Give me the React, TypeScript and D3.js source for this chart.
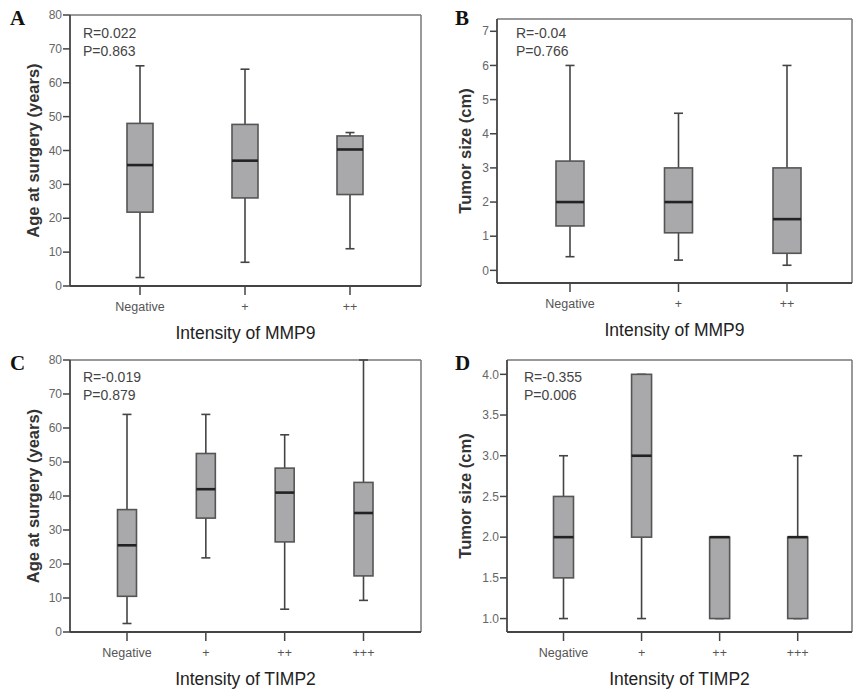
import React from "react";
import * as d3 from "d3";

// ---- data ----
const catsMMP9 = ["Negative", "+", "++"];
const catsTIMP2 = ["Negative", "+", "++", "+++"];

// [min, q1, median, q3, max]
const ageByMMP9 = [
  [2.5, 21.8, 35.7, 48, 65],
  [7, 26, 37, 47.7, 64],
  [11, 27, 40.3, 44.3, 45.3],
];
const sizeByMMP9 = [
  [0.4, 1.3, 2, 3.2, 6],
  [0.3, 1.1, 2, 3, 4.6],
  [0.15, 0.5, 1.5, 3, 6],
];
const ageByTIMP2 = [
  [2.5, 10.5, 25.5, 36, 64],
  [21.8, 33.5, 42, 52.5, 64],
  [6.7, 26.5, 41, 48.2, 58],
  [9.3, 16.5, 35, 44, 80],
];
const sizeByTIMP2 = [
  [1, 1.5, 2, 2.5, 3],
  [1, 2, 3, 4, 4],
  [1, 1, 2, 2, 2],
  [1, 1, 2, 2, 3],
];

const ageTicks = [0, 10, 20, 30, 40, 50, 60, 70, 80];
const sizeTicksB = [0, 1, 2, 3, 4, 5, 6, 7];
const sizeTicksD = [1.0, 1.5, 2.0, 2.5, 3.0, 3.5, 4.0];

const statsA = ["R=0.022", "P=0.863"];
const statsB = ["R=-0.04", "P=0.766"];
const statsC = ["R=-0.019", "P=0.879"];
const statsD = ["R=-0.355", "P=0.006"];

type Panel = {
  letter: string;
  cats: string[];
  data: number[][];
  ticks: number[];
  fmt: (v: number) => string;
  yTitle: string;
  xTitle: string;
  stats: string[];
  frame: { l: number; t: number; r: number; b: number };
  catRange: [number, number];
  yDomain: [number, number];
  boxW: number;
  letterX: number;
  letterY: number;
  statsX: number;
  statsY: number;
  yTitleX: number;
};

const panels: Panel[] = [
  {
    letter: "A", cats: catsMMP9, data: ageByMMP9, ticks: ageTicks, fmt: d3.format("d"),
    yTitle: "Age at surgery (years)", xTitle: "Intensity of MMP9", stats: statsA,
    frame: { l: 70, t: 15, r: 421, b: 286 }, catRange: [140, 350], yDomain: [0, 80], boxW: 26,
    letterX: 10, letterY: 25, statsX: 83, statsY: 38, yTitleX: 33,
  },
  {
    letter: "B", cats: catsMMP9, data: sizeByMMP9, ticks: sizeTicksB, fmt: d3.format("d"),
    yTitle: "Tumor size (cm)", xTitle: "Intensity of MMP9", stats: statsB,
    frame: { l: 497, t: 19, r: 852, b: 283 }, catRange: [570, 787], yDomain: [-0.37, 7.36], boxW: 28,
    letterX: 455, letterY: 25, statsX: 516, statsY: 38, yTitleX: 465,
  },
  {
    letter: "C", cats: catsTIMP2, data: ageByTIMP2, ticks: ageTicks, fmt: d3.format("d"),
    yTitle: "Age at surgery (years)", xTitle: "Intensity of TIMP2", stats: statsC,
    frame: { l: 70, t: 360, r: 421, b: 632 }, catRange: [127, 363.5], yDomain: [0, 80], boxW: 19,
    letterX: 10, letterY: 370, statsX: 83, statsY: 382, yTitleX: 33,
  },
  {
    letter: "D", cats: catsTIMP2, data: sizeByTIMP2, ticks: sizeTicksD, fmt: d3.format(".1f"),
    yTitle: "Tumor size (cm)", xTitle: "Intensity of TIMP2", stats: statsD,
    frame: { l: 507, t: 360, r: 852, b: 632 }, catRange: [563.5, 797.7], yDomain: [0.835, 4.176], boxW: 20,
    letterX: 455, letterY: 370, statsX: 524, statsY: 382, yTitleX: 465,
  },
];

const SANS = "'Liberation Sans', Arial, sans-serif";
const NARROW = "'Liberation Sans Narrow', 'Liberation Sans', Arial, sans-serif";

function BoxPanel({ p }: { p: Panel }) {
  const { frame } = p;
  const x = d3.scalePoint<string>().domain(p.cats).range(p.catRange);
  const y = d3.scaleLinear().domain(p.yDomain).range([frame.b, frame.t]);
  const cap = 9;
  const midY = (frame.t + frame.b) / 2;
  const midX = (frame.l + frame.r) / 2;
  return (
    <g>
      <text x={p.letterX} y={p.letterY} fontFamily="'Liberation Serif', 'Times New Roman', serif"
        fontWeight="bold" fontSize={21} fill="#111">{p.letter}</text>
      {/* frame: top & right lighter */}
      <line x1={frame.l} y1={frame.t} x2={frame.r} y2={frame.t} stroke="#777" strokeWidth={1.5} />
      <line x1={frame.r} y1={frame.t} x2={frame.r} y2={frame.b} stroke="#777" strokeWidth={1.5} />
      {/* boxes */}
      {p.cats.map((c, i) => {
        const [mn, q1, md, q3, mx] = p.data[i];
        const cx = x(c) as number;
        const w = p.boxW;
        return (
          <g key={c}>
            <line x1={cx} x2={cx} y1={y(q3)} y2={y(mx)} stroke="#444" strokeWidth={1.6} />
            <line x1={cx} x2={cx} y1={y(q1)} y2={y(mn)} stroke="#444" strokeWidth={1.6} />
            <line x1={cx - cap / 2} x2={cx + cap / 2} y1={y(mx)} y2={y(mx)} stroke="#444" strokeWidth={1.6} />
            <line x1={cx - cap / 2} x2={cx + cap / 2} y1={y(mn)} y2={y(mn)} stroke="#444" strokeWidth={1.6} />
            <rect x={cx - w / 2} y={y(q3)} width={w} height={Math.max(0, y(q1) - y(q3))}
              fill="#a9a9ab" stroke="#555" strokeWidth={1.6} />
            <line x1={cx - w / 2} x2={cx + w / 2} y1={y(md)} y2={y(md)} stroke="#222" strokeWidth={2.6} />
          </g>
        );
      })}
      {/* axes */}
      <line x1={frame.l} y1={frame.t} x2={frame.l} y2={frame.b} stroke="#444" strokeWidth={1.8} />
      <line x1={frame.l} y1={frame.b} x2={frame.r} y2={frame.b} stroke="#444" strokeWidth={1.8} />
      {p.ticks.map((t) => (
        <g key={t}>
          <line x1={frame.l - 7} x2={frame.l} y1={y(t)} y2={y(t)} stroke="#444" strokeWidth={1.5} />
          <text x={frame.l - 8} y={y(t)} dy="0.35em" textAnchor="end" fontFamily={NARROW}
            fontSize={12} fill="#666">{p.fmt(t)}</text>
        </g>
      ))}
      {p.cats.map((c) => (
        <g key={"x" + c}>
          <line x1={x(c)} x2={x(c)} y1={frame.b} y2={frame.b + 9} stroke="#444" strokeWidth={1.5} />
          <text x={x(c)} y={frame.b + 25} textAnchor="middle" fontFamily={NARROW} fontSize={12.5}
            fill="#555">{c}</text>
        </g>
      ))}
      <text x={midX} y={frame.b + 53} textAnchor="middle" fontFamily={SANS} fontSize={17.5}
        fill="#222">{p.xTitle}</text>
      <text transform={`translate(${p.yTitleX},${midY}) rotate(-90)`} dy="0.35em" textAnchor="middle"
        fontFamily={SANS} fontWeight="bold" fontSize={16.5} fill="#333">{p.yTitle}</text>
      {p.stats.map((s, i) => (
        <text key={s} x={p.statsX} y={p.statsY + i * 17.5} fontFamily={SANS} fontSize={14}
          fill="#444">{s}</text>
      ))}
    </g>
  );
}

export default function App() {
  return (
    <svg width={853} height={694} style={{ position: "absolute", left: 0, top: 0, background: "#fff" }}>
      <rect width={853} height={694} fill="#fff" />
      {panels.map((p) => (
        <BoxPanel key={p.letter} p={p} />
      ))}
    </svg>
  );
}
